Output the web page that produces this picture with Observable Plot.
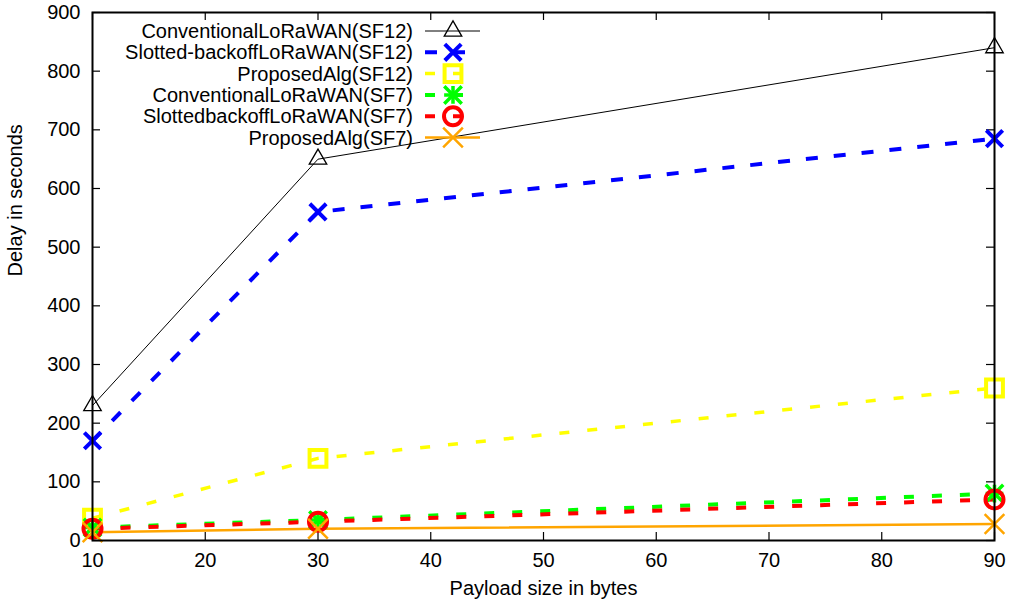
<!DOCTYPE html>
<html><head><meta charset="utf-8">
<script src="https://cdn.jsdelivr.net/npm/d3@7"></script>
<script src="https://cdn.jsdelivr.net/npm/@observablehq/plot@0.6"></script>
<style>body{margin:0;background:#fff} svg{font-family:"Liberation Sans",Arial,sans-serif}</style>
</head><body><div id="chart"></div><script>
const payload = [10, 30, 90];
const convSF12 = [230, 650, 840];
const slotSF12 = [170, 560, 685];
const propSF12 = [38, 140, 260];
const convSF7 = [22, 35, 80];
const slotSF7 = [20, 32, 70];
const propSF7 = [14, 20, 28];
const seriesNames = ["ConventionalLoRaWAN(SF12)", "Slotted-backoffLoRaWAN(SF12)", "ProposedAlg(SF12)",
  "ConventionalLoRaWAN(SF7)", "SlottedbackoffLoRaWAN(SF7)", "ProposedAlg(SF7)"];
const xTicks = [10, 20, 30, 40, 50, 60, 70, 80, 90];
const yTicks = [0, 100, 200, 300, 400, 500, 600, 700, 800, 900];
const xLabel = "Payload size in bytes";
const yLabel = "Delay in seconds";

const W = 1011, H = 607, ML = 92, MR = 17, MT = 12, MB = 67;
const innerW = W - ML - MR, innerH = H - MT - MB, tickLen = 8;
const FS = 20;

const series = [
  {values: convSF12, color: "#000000", width: 1, dash: null, symbols: ["triangle"], r: 6.5, sw: 1.3},
  {values: slotSF12, color: "#0000ff", width: 4, dash: "12,16", symbols: ["times"], r: 7.5, sw: 4},
  {values: propSF12, color: "#ffff00", width: 3.5, dash: "10,18", symbols: ["square"], r: 9.5, sw: 4},
  {values: convSF7, color: "#00ff00", width: 4, dash: "10,18", symbols: ["plus", "times"], r: 8, sw: 3.5},
  {values: slotSF7, color: "#ff0000", width: 4, dash: "10,18", symbols: ["circle"], r: 9, sw: 4},
  {values: propSF7, color: "#ffa500", width: 2.5, dash: null, symbols: ["times"], r: 9, sw: 2.5}
].map((s, i) => ({...s, name: seriesNames[i]}));

const rows = series.map(s => payload.map((p, i) => ({series: s.name, x: p, y: s.values[i]})));
const symR = (sym, r) => sym === "plus" ? r * 0.72 : r;

const marks = [];
series.forEach((s, i) => {
  marks.push(Plot.line(rows[i], {x: "x", y: "y", stroke: s.color, strokeWidth: s.width,
    strokeDasharray: s.dash || undefined, strokeLinecap: "butt"}));
});
series.forEach((s, i) => {
  s.symbols.forEach(sym => {
    marks.push(Plot.dot(rows[i], {x: "x", y: "y", symbol: sym, r: symR(sym, s.r), stroke: s.color,
      strokeWidth: s.sw, fill: "none"}));
  });
});

const chart = Plot.plot({
  width: W, height: H, marginLeft: ML, marginRight: MR, marginTop: MT, marginBottom: MB,
  style: {fontFamily: '"Liberation Sans", Arial, sans-serif', fontSize: FS + "px", background: "#fff"},
  x: {domain: [10, 90]},
  y: {domain: [0, 900]},
  marks: [
    Plot.axisX(xTicks, {tickSize: 0, tickPadding: 12, fontSize: FS, label: null, color: "#000"}),
    Plot.axisY(yTicks, {tickSize: 0, tickPadding: 12, fontSize: FS, label: null, color: "#000"}),
    Plot.text([xLabel], {frameAnchor: "bottom", dy: 54, text: d => d, fontSize: FS, fill: "#000"}),
    Plot.text([yLabel], {frameAnchor: "left", dx: -77, rotate: -90, text: d => d, fontSize: FS, fill: "#000"}),
    Plot.tickX(xTicks, {x: d => d, insetTop: innerH - tickLen, stroke: "#000", strokeWidth: 1.2}),
    Plot.tickX(xTicks, {x: d => d, insetBottom: innerH - tickLen, stroke: "#000", strokeWidth: 1.2}),
    Plot.tickY(yTicks, {y: d => d, insetRight: innerW - tickLen, stroke: "#000", strokeWidth: 1.2}),
    Plot.tickY(yTicks, {y: d => d, insetLeft: innerW - tickLen, stroke: "#000", strokeWidth: 1.2}),
    ...marks,
    Plot.frame({stroke: "#000", strokeWidth: 2})
  ]
});
document.getElementById("chart").appendChild(chart);

// legend (inside plot, top-left)
const svg = d3.select(chart);
const leg = svg.append("g").attr("font-size", FS).attr("fill", "#000");
const symMap = {triangle: d3.symbolTriangle, times: d3.symbolTimes, square: d3.symbolSquare,
  plus: d3.symbolPlus, circle: d3.symbolCircle};
series.forEach((s, i) => {
  const y = 31 + i * 21.3;
  leg.append("text").attr("x", 413).attr("y", y).attr("dy", "0.35em").attr("text-anchor", "end").text(s.name);
  leg.append("line").attr("x1", 425).attr("x2", 480).attr("y1", y).attr("y2", y)
    .attr("stroke", s.color).attr("stroke-width", s.width).attr("stroke-dasharray", s.dash);
  s.symbols.forEach(sym => {
    const rr = symR(sym, s.r);
    leg.append("path").attr("transform", `translate(453,${y})`)
      .attr("d", d3.symbol(symMap[sym], rr * rr * Math.PI)())
      .attr("fill", "none").attr("stroke", s.color).attr("stroke-width", s.sw);
  });
});
</script></body></html>
